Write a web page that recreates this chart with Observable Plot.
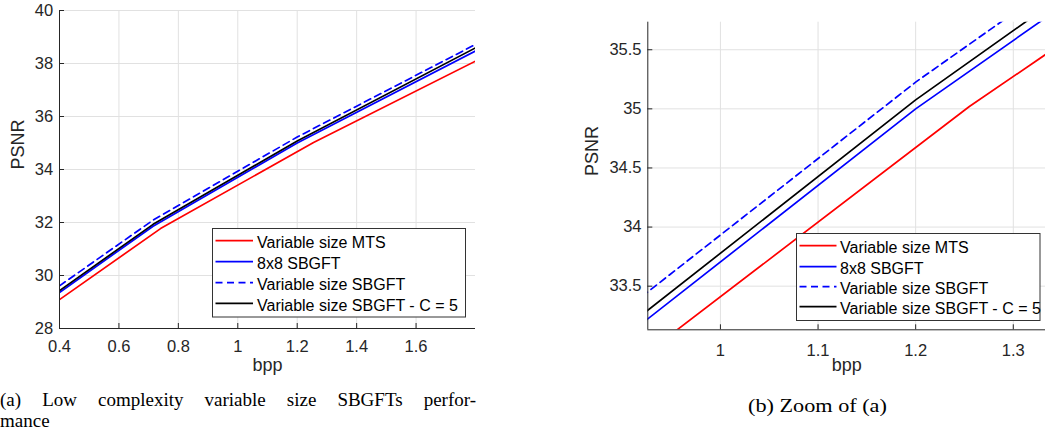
<!DOCTYPE html>
<html>
<head>
<meta charset="utf-8">
<script src="https://cdn.jsdelivr.net/npm/d3@7"></script>
<script src="https://cdn.jsdelivr.net/npm/@observablehq/plot@0.6"></script>
<style>
  html, body { margin: 0; padding: 0; background: #fff; }
  body { width: 1045px; height: 440px; overflow: hidden; position: relative;
         font-family: "Liberation Sans", Arial, sans-serif; }
  .panel { position: absolute; top: 0; }
  .legend { position: absolute; }
  .cap { position: absolute; font-family: "Liberation Serif", "Times New Roman", serif;
         color: #000; white-space: nowrap; }
</style>
</head>
<body>
<div id="left" class="panel" style="left:0px"></div>
<div id="right" class="panel" style="left:560px"></div>
<div id="legL" class="legend"></div>
<div id="legR" class="legend"></div>
<div class="cap" id="capA" style="left:0px; top:388.8px; font-size:19px; line-height:21px; width:476px; white-space:normal; text-align:justify; text-align-last:justify;">(a) Low complexity variable size SBGFTs perfor-<br>mance</div>
<div class="cap" id="capB" style="left:748px; top:395px; font-size:19.5px; line-height:21px; transform:scaleX(1.14); transform-origin:0 0;">(b) Zoom of (a)</div>
<script>
// ---- data ----
const seriesNames = ["Variable size MTS", "8x8 SBGFT", "Variable size SBGFT", "Variable size SBGFT - C = 5"];
const seriesColors = ["#ff0000", "#0000ff", "#0000ff", "#000000"];
const seriesDash = [null, null, "7,4.5", null];

const bppMTS = [0.4, 0.74, 1.255, 1.8];
const psnrMTS = [29.09, 31.77, 35.02, 38.09];

const bppSBGFT = [0.4, 0.715, 1.2, 1.8];
const psnr8x8 = [29.36, 31.86, 35.0, 38.47];
const psnrVar = [29.61, 32.09, 35.226, 38.72];
const psnrVarC5 = [29.43, 31.93, 35.076, 38.59];

const xTicksA = [0.4, 0.6, 0.8, 1, 1.2, 1.4, 1.6];
const yTicksA = [28, 30, 32, 34, 36, 38, 40];
const xTicksB = [1, 1.1, 1.2, 1.3];
const yTicksB = [33.5, 34, 34.5, 35, 35.5];

const xLabel = "bpp";
const yLabel = "PSNR";

const series = [
  {x: bppMTS, y: psnrMTS},
  {x: bppSBGFT, y: psnr8x8},
  {x: bppSBGFT, y: psnrVar},
  {x: bppSBGFT, y: psnrVarC5}
].map((s, i) => ({...s, color: seriesColors[i], dash: seriesDash[i], name: seriesNames[i]}));

const axisColor = "#262626";
const gridColor = "#e1e1e1";

function makeChart(cfg) {
  const lineMarks = series.map(s => Plot.line(s.y, {
    x: s.x, y: s.y, stroke: s.color, strokeWidth: 1.7, clip: true,
    ...(s.dash ? {strokeDasharray: s.dash} : {})
  }));
  return Plot.plot({
    width: cfg.width, height: cfg.height,
    marginLeft: cfg.ml, marginRight: cfg.mr, marginTop: cfg.mt, marginBottom: cfg.mb,
    style: {fontFamily: '"Liberation Sans", Arial, sans-serif', fontSize: "16px",
            color: axisColor, background: "transparent", overflow: "visible"},
    x: {domain: cfg.xDomain},
    y: {domain: cfg.yDomain},
    marks: [
      Plot.gridX(cfg.xTicks, {stroke: gridColor, strokeOpacity: 1}),
      Plot.gridY(cfg.yTicks, {stroke: gridColor, strokeOpacity: 1}),
      ...lineMarks,
      Plot.ruleX([cfg.xDomain[0]], {stroke: axisColor, strokeWidth: 1}),
      Plot.ruleY([cfg.yDomain[0]], {stroke: axisColor, strokeWidth: 1}),
      Plot.axisX(cfg.xTicks, {tickSize: -5, tickPadding: cfg.xPad, tickFormat: d => String(d),
                              label: null, fontSize: 16.5, fill: axisColor, stroke: axisColor}),
      Plot.axisY(cfg.yTicks, {tickSize: -5, tickPadding: 11.3, tickFormat: d => String(d),
                              label: null, fontSize: 16.5, fill: axisColor, stroke: axisColor}),
      Plot.text([xLabel], {frameAnchor: "bottom", dy: cfg.xLabDy, fontSize: 18, fill: axisColor}),
      Plot.text([yLabel], {frameAnchor: "left", dx: cfg.yLabDx, rotate: -90, fontSize: 18, fill: axisColor})
    ]
  });
}

document.getElementById("left").append(makeChart({
  width: 480, height: 385, ml: 59, mr: 5, mt: 10, mb: 57,
  xDomain: [0.4, 1.8], yDomain: [28, 40], xTicks: xTicksA, yTicks: yTicksA,
  xPad: 17, xLabDy: 42, yLabDx: -41.5
}));

document.getElementById("right").append(makeChart({
  width: 485, height: 385, ml: 87.3, mr: 0, mt: 21.7, mb: 55.7,
  xDomain: [0.9256, 1.333], yDomain: [33.131, 35.733], xTicks: xTicksB, yTicks: yTicksB,
  xPad: 19, xLabDy: 41, yLabDx: -55.6
}));

// ---- legends ----
function legend(id, box) {
  const el = document.getElementById(id);
  el.style.left = box.left + "px";
  el.style.top = box.top + "px";
  const svg = d3.select(el).append("svg")
    .attr("width", box.w + 2).attr("height", box.h + 2)
    .style("display", "block");
  svg.append("rect").attr("x", 0.5).attr("y", 0.5).attr("width", box.w).attr("height", box.h)
    .attr("fill", "#fff").attr("stroke", "#333").attr("stroke-width", 1);
  series.forEach((s, i) => {
    const y = box.rows[i];
    svg.append("line").attr("x1", box.s1).attr("x2", box.s2).attr("y1", y).attr("y2", y)
      .attr("stroke", s.color).attr("stroke-width", 1.7)
      .attr("stroke-dasharray", s.dash);
    svg.append("text").attr("x", box.tx).attr("y", y + 7.4)
      .attr("font-family", '"Liberation Sans", Arial, sans-serif').attr("font-size", 16)
      .attr("fill", "#000").text(s.name);
  });
}
legend("legL", {left: 212, top: 228, w: 253, h: 88.5, rows: [12.7, 33.7, 54.7, 75.3], s1: 3.5, s2: 41, tx: 45});
legend("legR", {left: 795.5, top: 233, w: 243.5, h: 87, rows: [12.7, 33.7, 53.7, 73.7], s1: 3.5, s2: 40.5, tx: 44});
</script>
</body>
</html>
